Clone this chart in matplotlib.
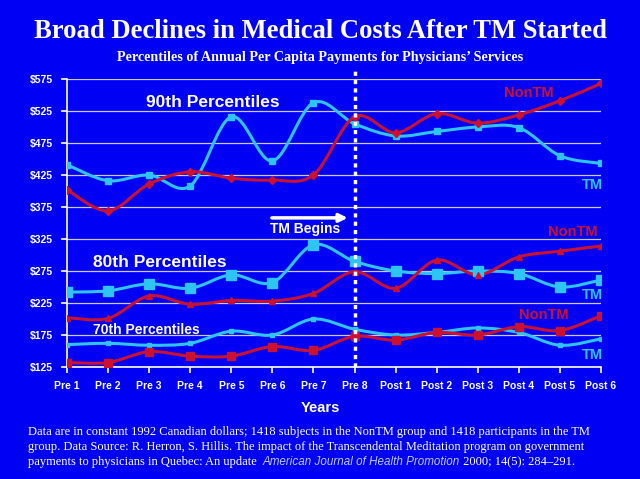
import matplotlib
matplotlib.use('Agg')
import matplotlib.pyplot as plt
import numpy as np
from matplotlib.path import Path
from matplotlib.patches import PathPatch

BG = '#0000f4'
TM_COLOR = '#2ec4f4'
NONTM_COLOR = '#cc1030'

years = ['Pre 1', 'Pre 2', 'Pre 3', 'Pre 4', 'Pre 5', 'Pre 6', 'Pre 7', 'Pre 8',
         'Post 1', 'Post 2', 'Post 3', 'Post 4', 'Post 5', 'Post 6']

tm_90 = [441, 416, 425, 408, 516, 447, 538, 505, 486, 493, 500, 499, 455, 443]
nontm_90 = [402, 369, 411, 430, 420, 417, 425, 516, 491, 521, 506, 519, 541, 568]
tm_80 = [242, 244, 255, 248, 269, 257, 316, 290, 275, 271, 275, 271, 250, 261]
nontm_80 = [202, 201, 236, 223, 229, 228, 240, 274, 248, 292, 269, 297, 306, 314]
tm_70 = [160, 162, 159, 162, 181, 175, 200, 184, 175, 179, 186, 179, 159, 169]
nontm_70 = [132, 132, 149, 142, 142, 157, 151, 173, 167, 179, 175, 188, 182, 205]

y_ticks = [125, 175, 225, 275, 325, 375, 425, 475, 525, 575]

SERIES = (
    (tm_90, TM_COLOR, 's', 4),
    (nontm_90, NONTM_COLOR, 'D', 4.5),
    (tm_80, TM_COLOR, 's', 6.5),
    (nontm_80, NONTM_COLOR, '^', 4),
    (tm_70, TM_COLOR, 's', 3),
    (nontm_70, NONTM_COLOR, 's', 5.5),
)


def smooth_path(xs, ys):
    """Catmull-Rom style cubic Bezier through the points (like Excel smoothing)."""
    pts = np.column_stack([xs, ys]).astype(float)
    ext = np.vstack([pts[0], pts, pts[-1]])
    verts = [pts[0]]
    codes = [Path.MOVETO]
    for i in range(1, len(ext) - 2):
        p0, p1, p2, p3 = ext[i - 1], ext[i], ext[i + 1], ext[i + 2]
        verts += [p1 + (p2 - p0) / 6.0, p2 - (p3 - p1) / 6.0, p2]
        codes += [Path.CURVE4] * 3
    return Path(verts, codes)


fig = plt.figure(figsize=(6.4, 4.79), dpi=100, facecolor=BG)
ax = fig.add_axes([0.1047, 0.2338, 0.8344, 0.6013], facecolor=BG)

x = np.arange(len(years))
for vals, color, marker, msize in SERIES:
    ax.add_patch(PathPatch(smooth_path(x, vals), facecolor='none',
                           edgecolor=color, lw=2.2, zorder=3))
    ax.plot(x, vals, ls='none', marker=marker, ms=msize, color=color, zorder=4)

ax.set_xlim(0, len(years) - 1)
ax.set_ylim(125, 575)
ax.set_yticks(y_ticks)
ax.set_yticklabels([f'${v}' for v in y_ticks])
ax.set_xticks(x)
ax.set_xticklabels(years)
ax.grid(axis='y', color='#c8c8e8', lw=0.9)
ax.set_axisbelow(True)
for side in ('top', 'right'):
    ax.spines[side].set_visible(False)
for side in ('left', 'bottom'):
    ax.spines[side].set_color('white')
    ax.spines[side].set_linewidth(1.2)
ax.tick_params(colors='white', length=4, width=1.2, labelsize=7.5, pad=6)
for lbl in ax.get_xticklabels() + ax.get_yticklabels():
    lbl.set_fontweight('bold')
    lbl.set_family('Liberation Sans')

# TM begins marker
ax.axvline(7, ymin=0, ymax=1.04, color='white', ls=(0, (1.2, 1.2)), lw=2.5,
           clip_on=False, zorder=5)
ax.annotate('', xy=(6.9, 358), xytext=(4.92, 358),
            arrowprops=dict(arrowstyle='-|>', color='white', lw=2.5,
                            mutation_scale=12))
ax.text(5.79, 340, 'TM Begins', color='white', fontsize=10, fontweight='bold',
        family='Liberation Sans', ha='center', va='center')

sans = dict(family='Liberation Sans', fontweight='bold')
ax.text(3.55, 538, '90th Percentiles', color='white', fontsize=12.5, ha='center',
        va='center', **sans)
ax.text(2.25, 289, '80th Percentiles', color='white', fontsize=12.5, ha='center',
        va='center', **sans)
ax.text(1.94, 183, '70th Percentiles', color='white', fontsize=10, ha='center',
        va='center', **sans)

ax.text(11.23, 553, 'NonTM', color=NONTM_COLOR, fontsize=10.5, ha='center',
        va='center', **sans)
ax.text(13.05, 409, 'TM', color=TM_COLOR, fontsize=10.5, ha='right', va='center', **sans)
ax.text(12.32, 336, 'NonTM', color=NONTM_COLOR, fontsize=10.5, ha='center',
        va='center', **sans)
ax.text(13.05, 237, 'TM', color=TM_COLOR, fontsize=10.5, ha='right', va='center', **sans)
ax.text(11.6, 206, 'NonTM', color=NONTM_COLOR, fontsize=10.5, ha='center',
        va='center', **sans)
ax.text(13.05, 144, 'TM', color=TM_COLOR, fontsize=10.5, ha='right', va='center', **sans)

# titles
fig.text(0.5, 1 - 32 / 479, 'Broad Declines in Medical Costs After TM Started',
         color='white', fontsize=19.2, fontweight='bold', family='Liberation Serif',
         ha='center', va='center')
fig.text(0.5, 1 - 57 / 479,
         'Percentiles of Annual Per Capita Payments for Physicians\u2019 Services',
         color='white', fontsize=10.2, fontweight='bold', family='Liberation Serif',
         ha='center', va='center')
fig.text(0.5, 1 - 408 / 479, 'Years', color='white', fontsize=10.5,
         fontweight='bold', family='Liberation Sans', ha='center', va='center')

# footnote
foot = dict(color='white', fontsize=9.0, family='Liberation Serif', va='center')
fig.text(28 / 640, 1 - 432 / 479,
         'Data are in constant 1992 Canadian dollars; 1418 subjects in the NonTM group '
         'and 1418 participants in the TM', **foot)
fig.text(28 / 640, 1 - 447 / 479,
         'group. Data Source: R. Herron, S. Hillis. The impact of the Transcendental '
         'Meditation program on government', **foot)
t1 = fig.text(28 / 640, 1 - 462 / 479,
              'payments to physicians in Quebec: An update  ', **foot)
fig.canvas.draw()
bb = t1.get_window_extent()
t2 = fig.text(bb.x1 / 640, 1 - 462 / 479, 'American Journal of Health Promotion',
              color='#c0c8ff', fontsize=8.4, style='italic', family='Liberation Sans',
              va='center')
fig.canvas.draw()
bb2 = t2.get_window_extent()
fig.text(bb2.x1 / 640, 1 - 462 / 479, ' 2000; 14(5): 284\u2013291.', **foot)

fig.savefig('out.png', dpi=100, facecolor=BG)
